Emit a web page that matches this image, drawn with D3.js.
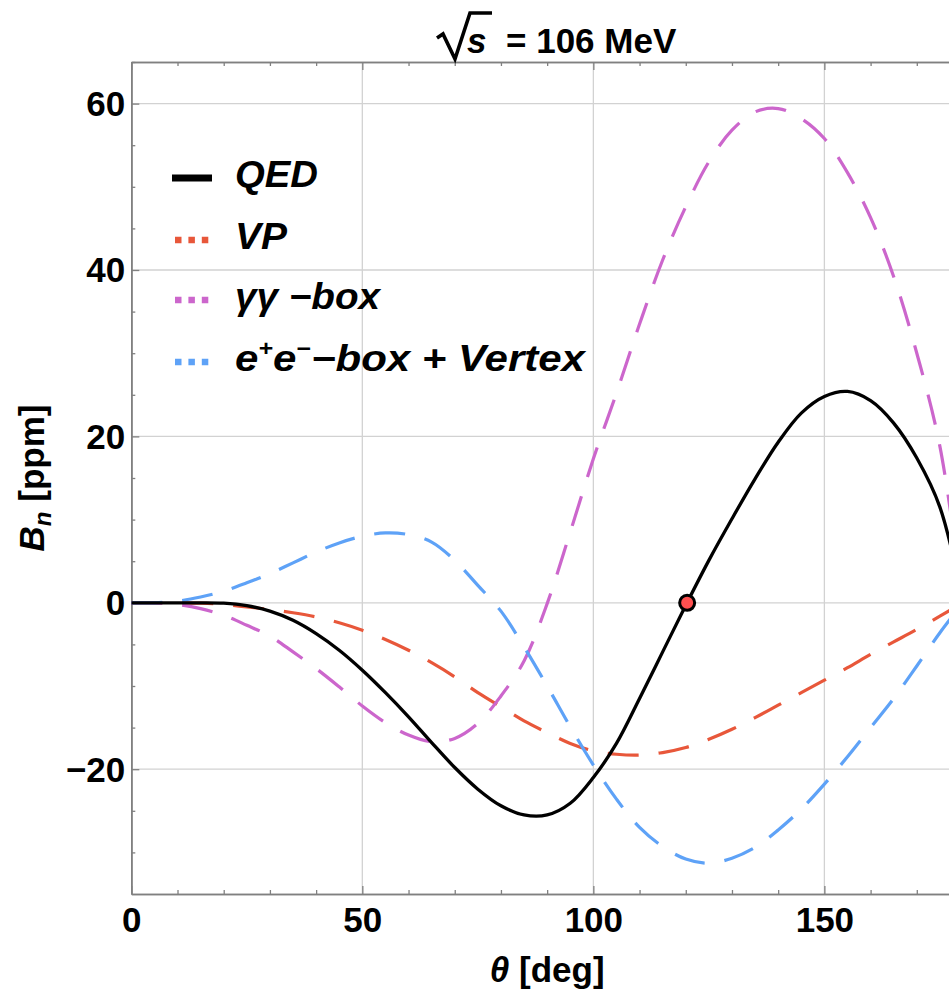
<!DOCTYPE html>
<html>
<head>
<meta charset="utf-8">
<script src="https://cdn.jsdelivr.net/npm/d3@7/dist/d3.min.js"></script>
<style>
  html, body { margin: 0; padding: 0; background: #fff; }
  svg { display: block; font-family: "Liberation Sans", Arial, sans-serif; }
</style>
</head>
<body>
<svg id="chart" width="949" height="989"></svg>
<script>
// Scattering angle grid (deg)
const theta = [0, 5, 10, 15, 20, 25, 30, 35, 40, 45, 50, 55, 60, 65, 70, 75, 80, 85, 90,
               95, 100, 105, 110, 115, 120, 125, 130, 135, 140, 145, 150, 155, 160, 165, 170, 175, 180];

// Beam-normal single-spin asymmetry B_n in ppm
const qed = [0, 0, 0, 0, -0.05, -0.35, -1.0, -2.1, -3.7, -5.7, -8.1, -10.8, -13.7, -16.8, -19.8, -22.4, -24.4, -25.5, -25.5,
             -24.1, -21.0, -16.9, -11.5, -5.9, -0.3, 5.1, 10.1, 14.9, 19.3, 22.8, 24.8, 25.4, 24.3, 21.6, 17.4, 11.5, 0];
const vp = [0, 0, 0, -0.05, -0.2, -0.5, -0.8, -1.2, -1.7, -2.4, -3.3, -4.4, -5.7, -7.2, -8.9, -10.8, -12.5, -14.2, -15.6,
            -16.9, -17.8, -18.2, -18.3, -18.0, -17.4, -16.4, -15.2, -13.8, -12.3, -10.8, -9.3, -7.8, -6.2, -4.7, -3.2, -1.6, 0];
const gg = [0, 0, -0.2, -0.7, -1.5, -2.7, -4.0, -5.9, -7.9, -10.1, -12.4, -14.4, -15.9, -16.7, -16.3, -14.5, -11.2, -7.0, -0.1,
            8.5, 17.3, 25.2, 33.5, 41.2, 47.6, 53.0, 56.8, 59.0, 59.4, 58.2, 55.8, 51.7, 46.3, 39.2, 30.0, 18.8, 0];
const eeBox = [0, 0, 0.2, 0.7, 1.4, 2.4, 3.5, 4.8, 6.1, 7.2, 8.0, 8.4, 8.2, 7.3, 5.1, 2.1, -1.0, -5.3, -10.0,
               -14.9, -19.5, -23.6, -27.0, -29.3, -30.8, -31.3, -30.7, -29.4, -27.3, -24.8, -21.8, -18.5, -15.0, -11.5, -7.6, -3.6, 0];

// Zero crossing of the full QED result
const zeroCrossing = [{ theta: 120.3, value: 0 }];

// Axis ticks
const xMajor = [0, 50, 100, 150];
const xMinor = [10, 20, 30, 40, 60, 70, 80, 90, 110, 120, 130, 140, 160, 170];
const yMajor = [-20, 0, 20, 40, 60];
const yMinor = [-30, -25, -15, -10, -5, 5, 10, 15, 25, 30, 35, 45, 50, 55, 65];

const seriesNames = ["QED", "VP", "γγ −box", "e+e−−box + Vertex"];
const seriesColors = ["#000000", "#E8573A", "#CC66CC", "#5EA2F7"];

const svg = d3.select("#chart");
const x = d3.scaleLinear().domain([0, 180]).range([131.3, 963]);
const y = d3.scaleLinear().domain([-35, 65]).range([894, 62]);
const [x0, x1] = x.range();
const [yB, yT] = y.range();

svg.append("defs").append("clipPath").attr("id", "plot-clip")
  .append("rect").attr("x", x0).attr("y", yT).attr("width", x1 - x0).attr("height", yB - yT);

// Grid
const grid = svg.append("g").attr("stroke", "#d2d2d2").attr("stroke-width", 1.3);
grid.selectAll(".gx").data([50, 100, 150]).join("line")
  .attr("x1", d => x(d)).attr("x2", d => x(d)).attr("y1", yT).attr("y2", yB);
grid.selectAll(".gy").data(yMajor).join("line")
  .attr("x1", x0).attr("x2", x1).attr("y1", d => y(d)).attr("y2", d => y(d));

// Frame and ticks
const frameColor = "#808080";
function styleAxis(g) {
  g.selectAll(".domain").attr("stroke", frameColor).attr("stroke-width", 1.6);
  g.selectAll(".tick line").attr("stroke", frameColor).attr("stroke-width", 1.3);
}
const tickFont = g => g.selectAll(".tick text")
  .attr("fill", "#000").attr("font-size", 35).attr("font-weight", "bold")
  .attr("font-family", "'Liberation Sans', Arial, sans-serif");

svg.append("g").attr("transform", `translate(0,${yB})`)
  .call(d3.axisBottom(x).tickValues(xMajor).tickSizeInner(-8).tickSizeOuter(0).tickFormat(d3.format("d")))
  .call(styleAxis).call(tickFont)
  .call(g => g.selectAll(".tick text").attr("y", 38).attr("dy", 0));
svg.append("g").attr("transform", `translate(0,${yB})`)
  .call(d3.axisBottom(x).tickValues(xMinor).tickSizeInner(-4).tickSizeOuter(0).tickFormat(""))
  .call(styleAxis);
svg.append("g").attr("transform", `translate(0,${yT})`)
  .call(d3.axisTop(x).tickValues(xMajor).tickSizeInner(-8).tickSizeOuter(0).tickFormat(""))
  .call(styleAxis);
svg.append("g").attr("transform", `translate(0,${yT})`)
  .call(d3.axisTop(x).tickValues(xMinor).tickSizeInner(-4).tickSizeOuter(0).tickFormat(""))
  .call(styleAxis);

svg.append("g").attr("transform", `translate(${x0},0)`)
  .call(d3.axisLeft(y).tickValues(yMajor).tickSizeInner(-8).tickSizeOuter(0).tickFormat(d3.format("d")))
  .call(styleAxis).call(tickFont)
  .call(g => g.selectAll(".tick text").attr("x", -6).attr("dy", "0.34em"));
svg.append("g").attr("transform", `translate(${x0},0)`)
  .call(d3.axisLeft(y).tickValues(yMinor).tickSizeInner(-4).tickSizeOuter(0).tickFormat(""))
  .call(styleAxis);

// Curves
const plot = svg.append("g").attr("clip-path", "url(#plot-clip)");
const line = d3.line().x(d => x(d[0])).y(d => y(d[1])).curve(d3.curveCatmullRom.alpha(0.5));
const toPts = vals => theta.map((t, i) => [t, vals[i]]);

[vp, gg, eeBox].forEach((vals, i) => {
  plot.append("path").datum(toPts(vals))
    .attr("d", line).attr("fill", "none")
    .attr("stroke", seriesColors[i + 1]).attr("stroke-width", 3.2)
    .attr("stroke-dasharray", "31,20");
});
plot.append("path").datum(toPts(qed))
  .attr("d", line).attr("fill", "none")
  .attr("stroke", seriesColors[0]).attr("stroke-width", 3.3);

plot.selectAll(".zc").data(zeroCrossing).join("circle")
  .attr("cx", d => x(d.theta)).attr("cy", d => y(d.value)).attr("r", 7.5)
  .attr("fill", "#FF5050").attr("stroke", "#000").attr("stroke-width", 3);

// Legend
const legend = svg.append("g");
const rowY = [178, 240, 300, 362];
const labelWidths = [83, 52, 145, 350];
seriesNames.forEach((name, i) => {
  if (i === 0) {
    legend.append("line").attr("x1", 172).attr("x2", 212).attr("y1", rowY[i]).attr("y2", rowY[i])
      .attr("stroke", seriesColors[i]).attr("stroke-width", 7);
  } else {
    legend.append("line").attr("x1", 175).attr("x2", 208.5).attr("y1", rowY[i]).attr("y2", rowY[i])
      .attr("stroke", seriesColors[i]).attr("stroke-width", 6.5).attr("stroke-dasharray", "6.5,6.9");
  }
  const t = legend.append("text").attr("x", 235).attr("y", rowY[i] + 9)
    .attr("font-size", 37).attr("font-weight", "bold").attr("font-style", "italic")
    .attr("textLength", labelWidths[i]).attr("lengthAdjust", "spacingAndGlyphs");
  if (i === 3) {
    t.append("tspan").text("e");
    t.append("tspan").attr("font-size", 22).attr("dy", -15).text("+");
    t.append("tspan").attr("dy", 15).text("e");
    t.append("tspan").attr("font-size", 22).attr("dy", -15).text("−");
    t.append("tspan").attr("dy", 15).text("−box + Vertex");
  } else {
    t.text(name);
  }
});

// Title: √s = 106 MeV
const title = svg.append("g");
title.append("path")
  .attr("d", "M437,38 L443,34 L455,59 L470,13 L492,13")
  .attr("fill", "none").attr("stroke", "#000").attr("stroke-width", 3.6).attr("stroke-linejoin", "miter");
title.append("text").attr("x", 467).attr("y", 53)
  .attr("font-size", 35).attr("font-weight", "bold").attr("font-style", "italic").text("s");
title.append("text").attr("x", 506).attr("y", 53)
  .attr("font-size", 35).attr("font-weight", "bold").text("= 106 MeV");

// Axis titles
const xl = svg.append("text").attr("x", (x0 + x1) / 2).attr("y", 982)
  .attr("text-anchor", "middle").attr("font-size", 35).attr("font-weight", "bold");
xl.append("tspan").attr("font-style", "italic").text("θ");
xl.append("tspan").text(" [deg]");

const yl = svg.append("text")
  .attr("transform", `translate(44,${(yB + yT) / 2}) rotate(-90)`)
  .attr("text-anchor", "middle").attr("font-size", 35).attr("font-weight", "bold");
yl.append("tspan").attr("font-style", "italic").text("B");
yl.append("tspan").attr("font-style", "italic").attr("font-size", 24).attr("dy", 7).text("n");
yl.append("tspan").attr("dy", -7).text(" [ppm]");
</script>
</body>
</html>
